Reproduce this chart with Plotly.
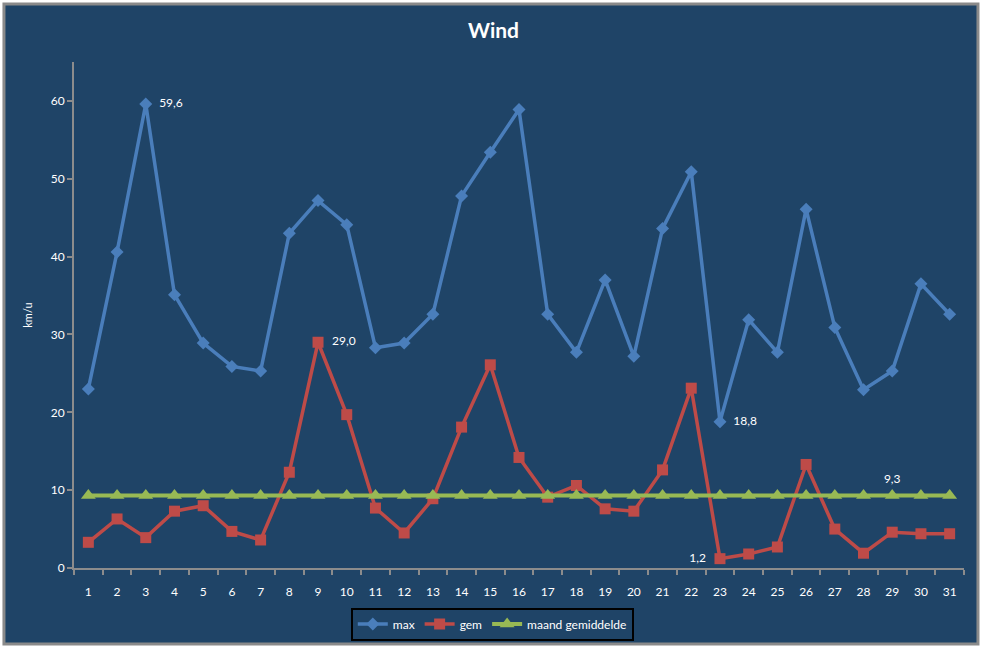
import plotly.graph_objects as go

# ── data (km/u per dag) ──────────────────────────────────────────────────────
days = list(range(1, 32))
wind_max = [23.0, 40.6, 59.6, 35.1, 28.9, 25.9, 25.3, 43.0, 47.2, 44.1,
            28.3, 28.9, 32.6, 47.8, 53.4, 58.9, 32.6, 27.7, 37.0, 27.2,
            43.6, 50.9, 18.8, 31.9, 27.7, 46.1, 30.9, 22.9, 25.3, 36.5, 32.6]
wind_gem = [3.3, 6.3, 3.9, 7.3, 8.0, 4.7, 3.6, 12.3, 29.0, 19.7,
            7.7, 4.5, 8.9, 18.1, 26.1, 14.2, 9.1, 10.6, 7.6, 7.3,
            12.6, 23.1, 1.2, 1.8, 2.7, 13.3, 5.0, 1.9, 4.6, 4.4, 4.4]
maand_gem = [9.3] * 31

# data labels: day -> text position
max_labels = {3: "middle right", 23: "middle right"}
gem_labels = {9: "middle right", 23: "middle left"}
avg_labels = {29: "top center"}

BG      = "#1F4467"
AXIS    = "#8C8C8C"
C_MAX   = "#4A7EBB"
C_GEM   = "#BE4B48"
C_AVG   = "#98B954"
FONT    = "Lato"


def nl(v):
    return f"{v:.1f}".replace(".", ",")


def label_arrays(vals, wanted):
    txt = []
    for d, v in zip(days, vals):
        if d not in wanted:
            txt.append("")
        elif "left" in wanted[d]:
            txt.append(nl(v) + "  ")
        elif "right" in wanted[d]:
            txt.append("  " + nl(v))
        else:
            txt.append(nl(v))
    pos = [wanted.get(d, "middle right") for d in days]
    return txt, pos


fig = go.Figure()

for name, vals, color, symbol, size, width, wanted in [
    ("max", wind_max, C_MAX, "diamond", 10, 3.5, max_labels),
    ("gem", wind_gem, C_GEM, "square", 11, 3.5, gem_labels),
    ("maand gemiddelde", maand_gem, C_AVG, "triangle-up", 13, 4, avg_labels),
]:
    txt, pos = label_arrays(vals, wanted)
    fig.add_trace(go.Scatter(
        x=days, y=vals, name=name,
        mode="lines+markers+text",
        line=dict(color=color, width=width),
        marker=dict(color=color, symbol=symbol, size=size),
        text=txt, textposition=pos,
        textfont=dict(color="white", size=12, family=FONT),
        cliponaxis=False,
    ))

# outer chart frame (grey border, white outside)
fig.add_shape(type="rect", xref="paper", yref="paper",
              x0=-0.0787, x1=1.0157, y0=-0.150, y1=1.1146,
              fillcolor=BG, line=dict(color="#8A8A8A", width=3), layer="below")

fig.update_layout(
    width=987, height=648,
    margin=dict(l=74, r=23, t=62, b=80),
    paper_bgcolor="white",
    plot_bgcolor=BG,
    font=dict(family=FONT, color="white", size=12),
    title=dict(text="<b>Wind</b>", x=0.5, xanchor="center", y=0.953, yanchor="middle",
               font=dict(size=21, color="white", family=FONT)),
    showlegend=True,
    legend=dict(orientation="h", x=0.47, xanchor="center",
                yref="container", y=0.037, yanchor="middle",
                bgcolor=BG, bordercolor="black", borderwidth=2,
                font=dict(size=12, color="white", family=FONT),
                itemwidth=30, tracegroupgap=0),
)

fig.update_xaxes(
    range=[0.5, 31.5], tickvals=days, ticktext=[str(d) for d in days],
    showgrid=False, zeroline=False, showline=True, linecolor=AXIS, linewidth=2,
    ticks="", ticklabelstandoff=12, automargin=False,
    minor=dict(tick0=0.5, dtick=1, ticks="outside", ticklen=5, tickcolor=AXIS,
               tickwidth=2, showgrid=False),
    tickfont=dict(size=12, color="white"),
)
fig.update_yaxes(
    range=[0, 65], tickvals=[0, 10, 20, 30, 40, 50, 60],
    showgrid=False, zeroline=False, showline=True, linecolor=AXIS, linewidth=2,
    ticks="outside", ticklen=5, tickcolor=AXIS, tickwidth=2, automargin=False,
    title=dict(text="km/u", font=dict(size=11, color="white"), standoff=16),
    tickfont=dict(size=12, color="white"),
)

fig.write_html("out.html", config={"displayModeBar": False},
               post_script="document.body.style.margin='0px';")
